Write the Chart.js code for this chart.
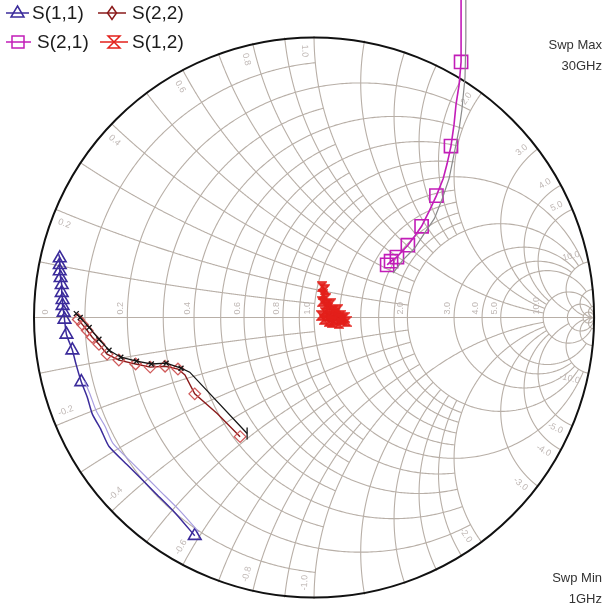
<!DOCTYPE html>
<html><head><meta charset="utf-8">
<script src="https://cdn.jsdelivr.net/npm/chart.js@4.4.1/dist/chart.umd.min.js"></script>
<style>html,body{margin:0;padding:0;background:#fff;overflow:hidden}canvas{display:block}</style>
</head><body>
<canvas id="c" width="605" height="610"></canvas>
<script>
// ---- data (reflection coefficient, real / imaginary) ----
const s11Re = [-0.426,-0.496,-0.567,-0.662,-0.732,-0.761,-0.792,-0.810,-0.831,-0.849,-0.863,-0.884,-0.891,-0.894,-0.898,-0.898,-0.901,-0.901,-0.905,-0.908,-0.908,-0.908,-0.912];
const s11Im = [-0.775,-0.694,-0.623,-0.528,-0.458,-0.398,-0.342,-0.282,-0.229,-0.169,-0.116,-0.060,-0.007,0.018,0.042,0.063,0.088,0.116,0.141,0.165,0.187,0.211,0.225];
const s11Marks = [0,8,10,11,12,13,14,15,16,17,18,19,20,21];
const s11bRe = [-0.412,-0.482,-0.553,-0.648,-0.718,-0.746,-0.778,-0.799,-0.820];
const s11bIm = [-0.761,-0.683,-0.613,-0.518,-0.447,-0.387,-0.331,-0.275,-0.225];

const s22Re = [-0.264,-0.345,-0.426,-0.461,-0.486,-0.532,-0.585,-0.637,-0.697,-0.739,-0.768,-0.792,-0.810,-0.827,-0.842];
const s22Im = [-0.423,-0.342,-0.271,-0.204,-0.183,-0.173,-0.176,-0.165,-0.151,-0.130,-0.095,-0.070,-0.046,-0.025,-0.007];
const s22Marks = [0,2,4,5,6,7,8,9,10,11,12,13,14];
const refRe = [-0.239,-0.444,-0.475,-0.528,-0.581,-0.634,-0.690,-0.732,-0.768,-0.803,-0.835,-0.849];
const refIm = [-0.412,-0.194,-0.180,-0.162,-0.165,-0.155,-0.141,-0.116,-0.077,-0.035,0.000,0.014];

const s21Re = [0.525,0.525,0.525,0.518,0.507,0.500,0.489,0.475,0.461,0.437,0.412,0.384,0.359,0.335,0.296,0.275,0.261];
const s21Im = [1.148,1.021,0.908,0.827,0.757,0.687,0.609,0.546,0.493,0.433,0.380,0.324,0.289,0.257,0.215,0.200,0.187];
const s21Marks = [2,6,9,11,13,14,15,16];
const grayRe = [0.542,0.542,0.539,0.528,0.518,0.500,0.482,0.458,0.430,0.394,0.359,0.317,0.282];
const grayIm = [1.148,0.986,0.852,0.739,0.669,0.581,0.493,0.423,0.352,0.299,0.246,0.204,0.158];

const s12Re = [0.028,0.039,0.032,0.042,0.028,0.046,0.060,0.049,0.067,0.085,0.074,0.095,0.109,0.092,0.070,0.053,0.035,0.025,0.039,0.056,0.077,0.099,0.116,0.088,0.063];
const s12Im = [0.109,0.099,0.081,0.067,0.056,0.046,0.049,0.032,0.025,0.028,0.014,0.007,0.000,-0.007,-0.011,-0.014,-0.007,0.007,0.018,0.007,0.004,-0.007,-0.014,-0.021,-0.018];

const legendLabels = ['S(1,1)','S(2,2)','S(2,1)','S(1,2)'];
const sweepText = ['Swp Max','30GHz','Swp Min','1GHz'];
const rTicks = [0,0.2,0.4,0.6,0.8,1.0,2.0,3.0,4.0,5.0,10.0];
const xTicks = [0.2,0.4,0.6,0.8,1.0,2.0,3.0,4.0,5.0,10.0];
// grid circle values with the limit of the other coordinate they run to
const gridVals = [0.1,0.2,0.3,0.4,0.5,0.6,0.7,0.8,0.9,1.0,1.2,1.4,1.6,1.8,2.0,3.0,4.0,5.0,10,20,50];
const gridLims = [1,2,1,2,1,2,1,2,1,10,2,2,2,2,10,10,10,20,50,Infinity,Infinity];

// ---- styles ----
const C11='#3b2b9b', C22='#8a1a1a', C22m='#d05a5a', C21='#c21db8', C12='#e3201b';

function hourglass(color,w,h,fill){
  const c=document.createElement('canvas'); c.width=w; c.height=h;
  const g=c.getContext('2d'); g.strokeStyle=color; g.lineWidth=1.4;
  g.beginPath(); g.moveTo(1,1); g.lineTo(w-1,1); g.lineTo(1,h-1); g.lineTo(w-1,h-1); g.closePath();
  if(fill){g.fillStyle=fill; g.fill();}
  g.stroke(); return c;
}
const hgImg = hourglass(C12,10,11,'rgba(227,32,27,0.85)');

const pts=(re,im)=>re.map((v,i)=>({x:v,y:im[i]}));
const mk=(idx,r)=>c=>idx.includes(c.dataIndex)?r:0;

function z2g(r,x){const d=(r+1)*(r+1)+x*x;return [(r*r+x*x-1)/d,2*x/d];}
function fmt(v){return v.toFixed(1);}

const smithPlugin={
  id:'smith',
  beforeDatasetsDraw(chart){
    const {ctx,scales:{x:sx,y:sy}}=chart;
    const P=g=>[sx.getPixelForValue(g[0]),sy.getPixelForValue(g[1])];
    const cx=sx.getPixelForValue(0), cy=sy.getPixelForValue(0);
    const R=sx.getPixelForValue(1)-cx;
    ctx.save();
    ctx.strokeStyle='#b8afa7'; ctx.lineWidth=1.1;
    const N=500;
    gridVals.forEach((v,k)=>{
      const lim=gridLims[k];
      const pm=lim===Infinity?Math.PI/2-1e-4:Math.atan(lim);
      ctx.beginPath();
      for(let i=0;i<=N;i++){const t=Math.tan(-pm+2*pm*i/N);const p=P(z2g(v,t));i?ctx.lineTo(p[0],p[1]):ctx.moveTo(p[0],p[1]);}
      ctx.stroke();
      [1,-1].forEach(sg=>{
        ctx.beginPath();
        for(let i=0;i<=N;i++){const s=Math.tan(pm*i/N);const p=P(z2g(s,sg*v));i?ctx.lineTo(p[0],p[1]):ctx.moveTo(p[0],p[1]);}
        ctx.stroke();
      });
    });
    // real axis
    ctx.beginPath(); ctx.moveTo(cx-R,cy); ctx.lineTo(cx+R,cy); ctx.stroke();
    // labels
    ctx.fillStyle='#bfb7b4'; ctx.font='9px "Liberation Sans", Arial, sans-serif';
    rTicks.forEach(r=>{
      const u=(r-1)/(r+1); let px=sx.getPixelForValue(u)-2;
      if(r===0) px=cx-R+16;
      ctx.save(); ctx.translate(px,cy-3); ctx.rotate(-Math.PI/2);
      ctx.textAlign='left'; ctx.textBaseline='bottom'; ctx.fillText(r===0?'0':fmt(r),0,0); ctx.restore();
    });
    xTicks.forEach(xv=>{
      [1,-1].forEach(sg=>{
        const base=Math.PI-2*Math.atan(xv);
        const th=sg*(base+0.035);
        const rho=0.975*R;
        const px=cx+rho*Math.cos(th), py=cy-rho*Math.sin(th);
        ctx.save(); ctx.translate(px,py);
        const txt=(sg<0?'-':'')+fmt(xv);
        ctx.textBaseline='middle';
        if(Math.cos(th)<0.001){ctx.rotate(Math.atan2(Math.sin(th),-Math.cos(th)));ctx.textAlign='left';}
        else {ctx.rotate(Math.atan2(-Math.sin(th),Math.cos(th)));ctx.textAlign='right';}
        ctx.fillText(txt,0,0); ctx.restore();
      });
    });
    // rim
    ctx.strokeStyle='#111'; ctx.lineWidth=2;
    ctx.beginPath(); ctx.arc(cx,cy,R,0,Math.PI*2); ctx.stroke();
    ctx.restore();
  },
  afterDraw(chart){
    const ctx=chart.ctx;
    ctx.save();
    // sweep texts
    ctx.fillStyle='#333'; ctx.font='13px "Liberation Sans", Arial, sans-serif';
    ctx.textAlign='right'; ctx.textBaseline='middle';
    ctx.fillText(sweepText[0],602,45); ctx.fillText(sweepText[1],602,66);
    ctx.fillText(sweepText[2],602,578); ctx.fillText(sweepText[3],602,599);
    // legend
    ctx.lineWidth=1.5;
    const line=(x1,x2,y,c)=>{ctx.strokeStyle=c;ctx.beginPath();ctx.moveTo(x1,y);ctx.lineTo(x2,y);ctx.stroke();};
    // S11
    line(6,29,13,C11);
    ctx.beginPath(); ctx.moveTo(17.5,6); ctx.lineTo(24,17); ctx.lineTo(11,17); ctx.closePath(); ctx.stroke();
    // S22
    line(98,126,13,C22); ctx.strokeStyle=C22;
    ctx.beginPath(); ctx.moveTo(112,6.5); ctx.lineTo(116.5,13); ctx.lineTo(112,19.5); ctx.lineTo(107.5,13); ctx.closePath(); ctx.stroke();
    // S21
    line(6,31,42,C21); ctx.strokeStyle=C21; ctx.strokeRect(12,36,12,12);
    // S12
    line(100,128,42,C12); ctx.strokeStyle=C12;
    ctx.beginPath(); ctx.moveTo(108,36); ctx.lineTo(120,36); ctx.lineTo(108,48); ctx.lineTo(120,48); ctx.closePath(); ctx.stroke();
    ctx.fillStyle='#1c1c1c'; ctx.font='19px "Liberation Sans", Arial, sans-serif';
    ctx.textAlign='left'; ctx.textBaseline='middle';
    ctx.fillText(legendLabels[0],32,14); ctx.fillText(legendLabels[1],132,14);
    ctx.fillText(legendLabels[2],37,43); ctx.fillText(legendLabels[3],132,43);
    ctx.restore();
  }
};

new Chart(document.getElementById('c'),{
  type:'scatter',
  data:{datasets:[
    {label:'S11b',data:pts(s11bRe,s11bIm),showLine:true,borderColor:'#a89ee0',borderWidth:1.2,pointRadius:0,tension:0.2},
    {label:'ref',data:pts(refRe,refIm),showLine:true,borderColor:'#151515',borderWidth:1.3,
      pointRadius:c=>c.dataIndex===0?6:(c.dataIndex>1?3.5:0),pointStyle:c=>c.dataIndex===0?'line':'crossRot',
      pointRotation:c=>c.dataIndex===0?90:0,pointBorderColor:'#151515',pointBorderWidth:1.3,pointBackgroundColor:'transparent'},
    {label:legendLabels[1],data:pts(s22Re,s22Im),showLine:true,borderColor:C22,borderWidth:1.4,
      pointRadius:mk(s22Marks,5.8),pointStyle:'rectRot',pointBorderColor:C22m,pointBorderWidth:1.3,pointBackgroundColor:'transparent'},
    {label:legendLabels[0],data:pts(s11Re,s11Im),showLine:true,borderColor:C11,borderWidth:1.5,tension:0.2,
      pointRadius:mk(s11Marks,7.3),pointStyle:'triangle',pointBorderColor:C11,pointBorderWidth:1.6,pointBackgroundColor:'transparent'},
    {label:'gray',data:pts(grayRe,grayIm),showLine:true,borderColor:'#8a8a8a',borderWidth:1.2,pointRadius:0,clip:false},
    {label:legendLabels[2],data:pts(s21Re,s21Im),showLine:true,borderColor:C21,borderWidth:1.6,clip:false,
      pointRadius:mk(s21Marks,9.3),pointStyle:'rect',pointBorderColor:C21,pointBorderWidth:1.6,pointBackgroundColor:'transparent'},
    {label:legendLabels[3],data:pts(s12Re,s12Im),showLine:true,borderColor:C12,borderWidth:2,
      pointRadius:5,pointStyle:hgImg}
  ]},
  options:{
    responsive:false,animation:false,devicePixelRatio:1,events:[],
    layout:{padding:{left:34,right:3,top:36,bottom:6}},
    scales:{x:{type:'linear',min:-1,max:1,display:false},y:{type:'linear',min:-1,max:1,display:false}},
    plugins:{legend:{display:false},tooltip:{enabled:false}}
  },
  plugins:[smithPlugin]
});
</script>
</body></html>
